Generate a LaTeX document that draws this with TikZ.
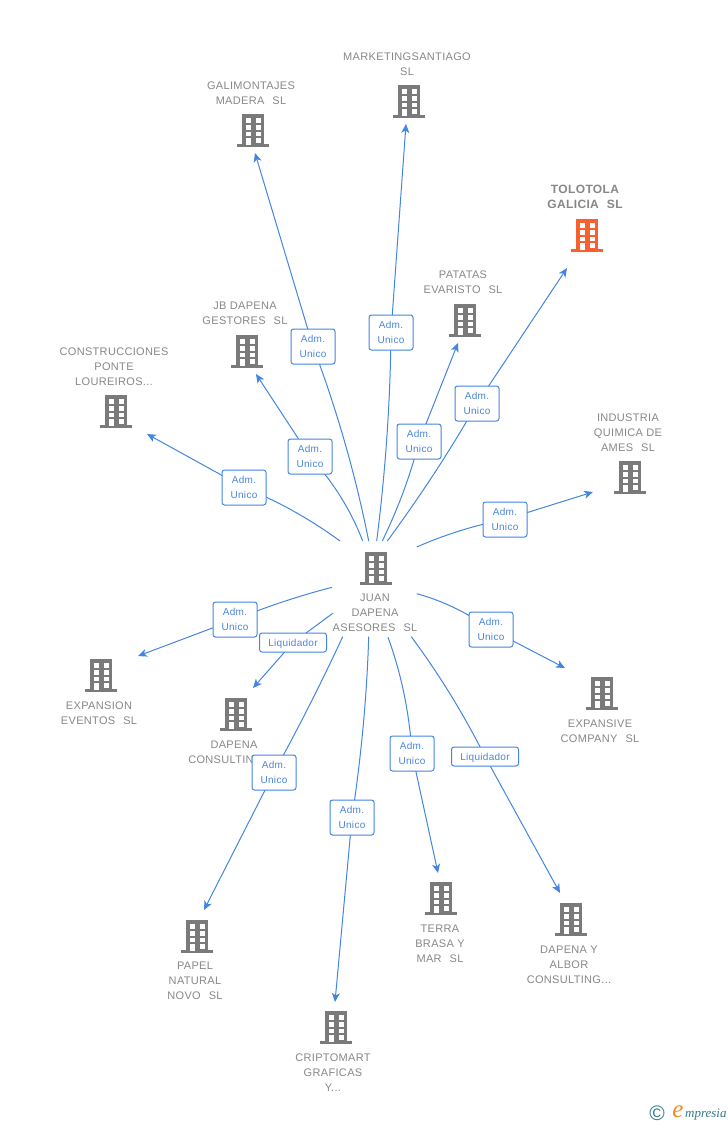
\documentclass[tikz,border=0pt]{standalone}
\usepackage{fontspec}
\setmainfont{Liberation Sans}
\newfontfamily\logoserif{Liberation Serif}
\usetikzlibrary{arrows.meta,backgrounds,calc}
\definecolor{linkblue}{HTML}{4285E2}
\definecolor{labelblue}{HTML}{4A86DC}
\definecolor{icongray}{HTML}{7A7A7A}
\definecolor{textgray}{HTML}{878787}
\definecolor{hotorange}{HTML}{F9602F}
\definecolor{logoteal}{HTML}{347A90}
\definecolor{logoorange}{HTML}{F28A1E}
\newcommand{\dsp}{\hspace{8pt}}
\tikzset{
  x=1pt,y=-1pt,
  connline/.style={draw=linkblue,line width=1pt},
  conn/.style={connline,-{Stealth[length=9pt,width=8pt,inset=2.5pt]}},
  rolebox/.style={draw=linkblue,line width=1pt,fill=white,rounded corners=2.5pt,text=labelblue,align=center,
    font=\fontsize{10}{15}\selectfont\addfontfeatures{LetterSpace=3},inner sep=0pt,minimum width=44pt,minimum height=35pt,
    text depth=0pt},
  liqbox/.style={rolebox,minimum width=67pt,minimum height=19pt},
  firm/.style={text=textgray,align=center,inner sep=0pt,font=\fontsize{11}{15}\selectfont\addfontfeatures{LetterSpace=3}},
  hotfirm/.style={firm,font=\fontsize{12}{15}\selectfont\bfseries\addfontfeatures{LetterSpace=3}},
}
% #1 name, #2 centre x, #3 top y, #4 colour
\newcommand{\bldg}[4]{%
  \coordinate (#1) at (#2,#3+16);
  \begin{scope}[shift={(#2,#3)}]
    \fill[#4] (-11,0) rectangle (11,31);
    \fill[#4] (-16,29.5) rectangle (16,32.5);
    \foreach \yy in {4.3,11,17.7,24}{
      \fill[white] (2.5,\yy) rectangle (7.5,\yy+4.5);
    }
    \foreach \yy in {4.3,11,17.7}{
      \fill[white] (-7.5,\yy) rectangle (-2.5,\yy+4.5);
    }
    \fill[white] (-7.5,24) rectangle (-2.5,30.5);
  \end{scope}}
\begin{document}
\begin{tikzpicture}
\useasboundingbox (0,0) rectangle (728,1125);
% buildings
\bldg{hub}{376}{552}{icongray}
\bldg{b1}{253}{114}{icongray}
\bldg{b2}{409}{85}{icongray}
\bldg{b3}{587}{219}{hotorange}
\bldg{b4}{465}{304}{icongray}
\bldg{b5}{247}{335}{icongray}
\bldg{b6}{116}{395}{icongray}
\bldg{b7}{630}{461}{icongray}
\bldg{b8}{602}{677}{icongray}
\bldg{b9}{571}{903}{icongray}
\bldg{b10}{441}{882}{icongray}
\bldg{b11}{336}{1011}{icongray}
\bldg{b12}{197}{920}{icongray}
\bldg{b13}{236}{698}{icongray}
\bldg{b14}{101}{659}{icongray}
% names
\node[firm] (n0) at (375,613) {JUAN\\DAPENA\\ASESORES\dsp SL};
\node[firm] (n1) at (251,93.5) {GALIMONTAJES\\MADERA\dsp SL};
\node[firm] (n2) at (407,64.5) {MARKETINGSANTIAGO\\SL};
\node[hotfirm] (n3) at (585,196.5) {TOLOTOLA\\GALICIA\dsp SL};
\node[firm] (n4) at (463,282.5) {PATATAS\\EVARISTO\dsp SL};
\node[firm] (n5) at (245,313.5) {JB DAPENA\\GESTORES\dsp SL};
\node[firm] (n6) at (114,367) {CONSTRUCCIONES\\PONTE\\LOUREIROS...};
\node[firm] (n7) at (628,433) {INDUSTRIA\\QUIMICA DE\\AMES\dsp SL};
\node[firm] (n8) at (600,731.5) {EXPANSIVE\\COMPANY\dsp SL};
\node[firm] (n9) at (569,965) {DAPENA Y\\ALBOR\\CONSULTING...};
\node[firm] (n10) at (440,944) {TERRA\\BRASA Y\\MAR\dsp SL};
\node[firm] (n11) at (333,1073) {CRIPTOMART\\GRAFICAS\\Y...};
\node[firm] (n12) at (195,981) {PAPEL\\NATURAL\\NOVO\dsp SL};
\node[firm] (n13) at (234,752.5) {DAPENA\\CONSULTING SL};
\node[firm] (n14) at (99,713.5) {EXPANSION\\EVENTOS\dsp SL};
% free ends and curve controls
\coordinate (s1) at (368.7,541);   \coordinate (c1) at (349,442);   \coordinate (e1) at (255,153);
\coordinate (s2) at (376.7,541);   \coordinate (c2) at (390,435.5); \coordinate (e2) at (406,124);
\coordinate (s3) at (387.3,541);   \coordinate (c3) at (438,472);   \coordinate (e3) at (567,268);
\coordinate (s4) at (382.3,541);   \coordinate (c4) at (406.5,491); \coordinate (e4) at (458,343);
\coordinate (s5) at (362.7,541);   \coordinate (c5) at (345,495);   \coordinate (e5) at (256,374);
\coordinate (s6) at (340,541);     \coordinate (c6) at (295,508);   \coordinate (e6) at (147,434);
\coordinate (s7) at (416.7,547);   \coordinate (c7) at (460,528);   \coordinate (e7) at (593,492);
\coordinate (s8) at (416.7,593.7); \coordinate (c8) at (455,604);   \coordinate (e8) at (565,668);
\coordinate (s9) at (411.3,636.7); \coordinate (c9) at (453,693);   \coordinate (e9) at (560,893);
\coordinate (s10) at (388,637.3);  \coordinate (c10) at (408,692);  \coordinate (e10) at (438,873);
\coordinate (s11) at (368.7,636.7);\coordinate (c11) at (366,725);  \coordinate (e11) at (335,1002);
\coordinate (s12) at (342.7,636.7);\coordinate (c12) at (312,703);  \coordinate (e12) at (204,910);
\coordinate (s13) at (332.7,613.3);\coordinate (c13) at (313,628);  \coordinate (e13) at (253,688);
\coordinate (s14) at (332,587.3);  \coordinate (c14) at (283,600);  \coordinate (e14) at (138,656);
% role boxes
\node[rolebox] (r1) at (313,346.5) {Adm.\\Unico};
\node[rolebox] (r2) at (391,332.5) {Adm.\\Unico};
\node[rolebox] (r3) at (477,403.5) {Adm.\\Unico};
\node[rolebox] (r4) at (419,441.5) {Adm.\\Unico};
\node[rolebox] (r5) at (310,456.5) {Adm.\\Unico};
\node[rolebox] (r6) at (244,487.5) {Adm.\\Unico};
\node[rolebox] (r7) at (505,519.5) {Adm.\\Unico};
\node[rolebox] (r8) at (491,629.5) {Adm.\\Unico};
\node[liqbox]  (r9) at (485,756.5) {Liquidador};
\node[rolebox] (r10) at (412,753.5) {Adm.\\Unico};
\node[rolebox] (r11) at (352,817.5) {Adm.\\Unico};
\node[rolebox] (r12) at (274,772.5) {Adm.\\Unico};
\node[liqbox]  (r13) at (293,642.5) {Liquidador};
\node[rolebox] (r14) at (235,619.5) {Adm.\\Unico};
% connectors
\begin{scope}[on background layer]
\foreach \i in {1,...,14}{
  \draw[connline] (s\i) .. controls ($(s\i)!0.667!(c\i)$) and ($(r\i.center)!0.667!(c\i)$) .. (r\i.center);
  \draw[conn] (r\i.center) -- (e\i);
}
\end{scope}
% logo
\node[inner sep=0pt,text=logoteal,font=\fontsize{21}{21}\selectfont] (lg1) at (657,1113) {©};
\node[inner sep=0pt,text=logoorange,font=\logoserif\itshape\fontsize{25}{25}\selectfont] (lg2) at (678,1111.5) {e};
\node[inner sep=0pt,text=logoteal,anchor=west,font=\logoserif\itshape\fontsize{13}{14}\selectfont] (lg3) at (685,1114.5) {mpresia};
\end{tikzpicture}
\end{document}
